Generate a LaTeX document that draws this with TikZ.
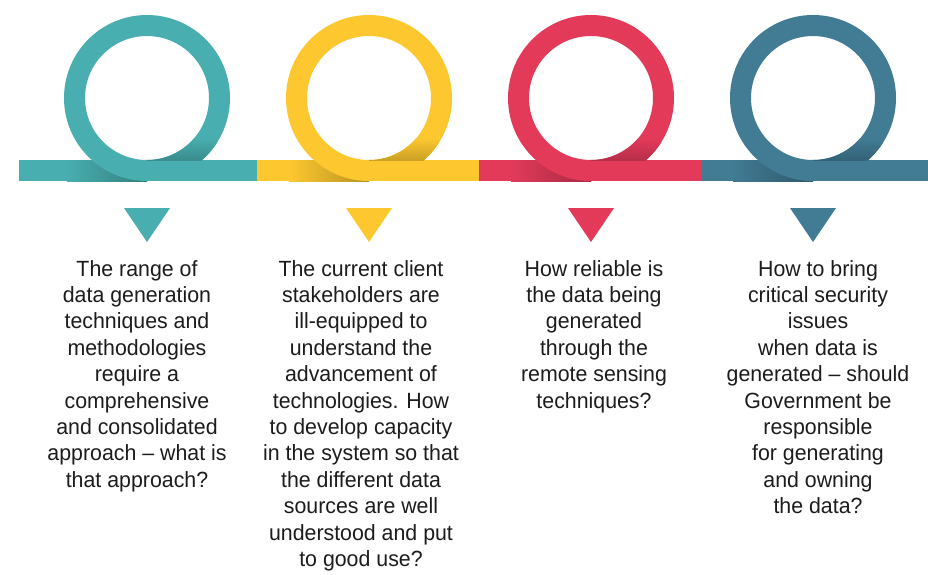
\documentclass[tikz,border=0pt]{standalone}
\usepackage{fontspec}
\setmainfont{Liberation Sans}[FakeStretch=0.97]
\definecolor{cteal}{HTML}{48AEAF}
\definecolor{cyell}{HTML}{FDC82F}
\definecolor{cred}{HTML}{E33A5A}
\definecolor{cblue}{HTML}{417B94}
\definecolor{ctext}{HTML}{1C1C1C}
\newcommand\loopring[2]{%
  \begin{scope}
    \clip (#2-80,160) rectangle (#2,181);
    \shade[left color=#1, right color=#1!72!black] (#2-80,160) rectangle (#2,181);
  \end{scope}
  \draw[#1, line width=21pt] (#2,98) circle[radius=72.5];
  \begin{scope}[even odd rule]
    \clip (#2,98) circle[radius=83] (#2,98) circle[radius=62];
    \clip (#2,138) rectangle (#2+70,160.5);
    \shade[top color=#1, bottom color=#1!80!black] (#2,138) rectangle (#2+70,160.5);
  \end{scope}
  \fill[#1] (#2-23,208) -- (#2+23,208) -- (#2,242) -- cycle;
}
\begin{document}
\begin{tikzpicture}[x=1pt,y=-1pt,
  txt/.style={anchor=north, inner sep=0pt, align=center, text=ctext,
    font=\fontsize{22}{26.4}\selectfont}]
\useasboundingbox (0,0) rectangle (928,574);
\fill[cteal] (19,160) rectangle (258,181);
\fill[cyell] (257,160) rectangle (480,181);
\fill[cred] (479,160) rectangle (703,181);
\fill[cblue] (702,160) rectangle (928,181);
\loopring{cteal}{147}
\loopring{cyell}{369}
\loopring{cred}{591}
\loopring{cblue}{813}
\node[txt] (t1) at (137,260) {The range of\\data generation\\techniques and\\methodologies\\require a\\comprehensive\\and consolidated\\approach -- what is\\that approach?};
\node[txt] (t2) at (361,260) {The current client\\stakeholders are\\ill-equipped to\\understand the\\advancement of\\technologies. How\\to develop capacity\\in the system so that\\the different data\\sources are well\\understood and put\\to good use?};
\node[txt] (t3) at (594,260) {How reliable is\\the data being\\generated\\through the\\remote sensing\\techniques?};
\node[txt] (t4) at (818,260) {How to bring\\critical security\\issues\\when data is\\generated -- should\\Government be\\responsible\\for generating\\and owning\\the data?};
\end{tikzpicture}
\end{document}
